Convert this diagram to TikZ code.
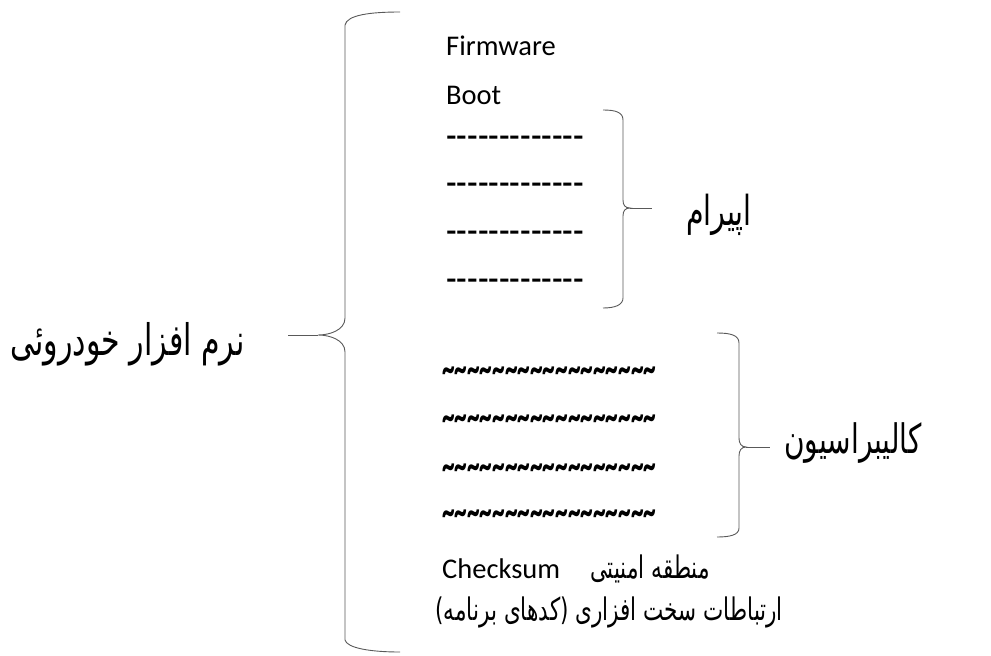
\documentclass[tikz,border=0pt]{standalone}
\usepackage{graphicx}
\usepackage{fontspec}
\setmainfont{Carlito}
\newfontfamily\rowfont{Carlito}[Ligatures=TeXOff]
\newfontfamily\arabicfont[Script=Arabic]{DejaVu Sans}
\TeXXeTstate=1
\usepackage{tikz}

\newcommand\dashrow{\resizebox{138pt}{1.5\height}{\rowfont -------------}}
\newcommand\tl{\textasciitilde}
\newcommand\tilderow{\resizebox{214pt}{1.5\height}{\rowfont\bfseries\tl\tl\tl\tl\tl\tl\tl\tl\tl\tl\tl\tl\tl\tl\tl\tl\tl}}
\newcommand\fatext[2]{\scalebox{1}[1.45]{\arabicfont\fontsize{#1}{#1}\selectfont #2}}

\begin{document}
\begin{tikzpicture}[x=1pt,y=-1pt,
  lat/.style={anchor=base west,inner sep=0pt,font=\fontsize{28.5}{30}\selectfont},
  fa/.style={anchor=base east,inner sep=0pt},
  row/.style={anchor=west,inner sep=0pt,font=\fontsize{28}{30}\selectfont},
  brace/.style={draw=black!65,line width=0.9pt}]
  \useasboundingbox (0,0) rectangle (991,656);

  % text on the right of the big brace
  \node[lat] (firmware) at (446,55) {Firmware};
  \node[lat] (boot) at (446,104) {Boot};
  \foreach \y/\n in {143/1,190/2,238/3,286/4}
    \node[row] (dash\n) at (446,\y) {\dashrow};
  \foreach \y/\n in {375/1,423/2,472/3,518/4}
    \node[row] (wave\n) at (442,\y) {\tilderow};
  \node[lat] (checksum) at (442,578) {Checksum};
  \node[fa] (safety) at (710,578) {\fatext{21.5}{\beginR منطقه امنیتی\endR}};
  \node[fa] (hwlink) at (783,620) {\fatext{21.5}{\beginR ارتباطات سخت افزاری (کدهای برنامه)\endR}};

  % labels
  \node[fa] (software) at (245,355) {\fatext{30}{\beginR نرم افزار خودروئی\endR}};
  \node[fa] (eprom) at (752,225) {\fatext{28.5}{\beginR اپیرام\endR}};
  \node[fa] (calib) at (922,453) {\fatext{28}{\beginR کالیبراسیون\endR}};

  % big brace
  \coordinate (swtip) at (318,335);
  \draw[brace] (400,12) .. controls (370,12) and (347,15) .. (345,25) -- (345,318)
    .. controls (345,330) and (330,335) .. (swtip)
    .. controls (330,335) and (345,340) .. (345,352) -- (345,640)
    .. controls (347,648) and (370,652) .. (400,652);
  \draw[brace] (software.east |- swtip) ++(43,0) -- (swtip);

  % eprom brace
  \coordinate (eptip) at (630,208);
  \draw[brace] (603,110) .. controls (615,110) and (623,112) .. (623,120) -- (623,200)
    .. controls (623,205) and (625,208) .. (eptip)
    .. controls (625,208) and (623,211) .. (623,216) -- (623,298)
    .. controls (623,305) and (615,308) .. (603,308);
  \draw[brace] (eptip) -- ++(22,0);

  % calibration brace
  \coordinate (catip) at (746,447);
  \draw[brace] (717,333) .. controls (730,333) and (739,335) .. (739,343) -- (739,438)
    .. controls (739,443) and (741,447) .. (catip)
    .. controls (741,447) and (739,451) .. (739,456) -- (739,528)
    .. controls (739,535) and (730,537) .. (717,537);
  \draw[brace] (catip) -- ++(24,0);
\end{tikzpicture}
\end{document}
